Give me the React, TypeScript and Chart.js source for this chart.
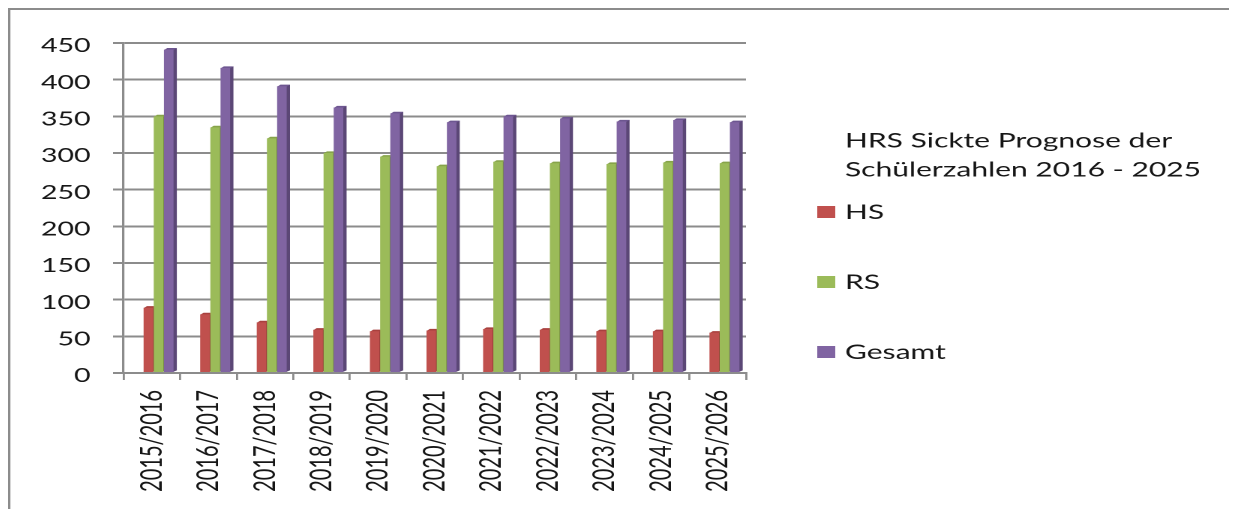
import React, { useEffect, useRef } from "react";
import { Chart, registerables } from "chart.js";

Chart.register(...registerables);

// ---------- data ----------
const categories = [
  "2015/2016", "2016/2017", "2017/2018", "2018/2019", "2019/2020", "2020/2021",
  "2021/2022", "2022/2023", "2023/2024", "2024/2025", "2025/2026",
];
const hsValues = [89, 80, 69, 59, 57, 58, 60, 59, 57, 57, 55];
const rsValues = [350, 335, 320, 300, 295, 282, 288, 286, 285, 287, 286];
const gesamtValues = [441, 416, 391, 362, 354, 342, 350, 347, 343, 345, 342];
const seriesNames = ["HS", "RS", "Gesamt"];
const legendTitle = ["HRS Sickte Prognose der", "Schülerzahlen 2016 - 2025"];
const yMin = 0;
const yMax = 450;
const yStep = 50;

// ---------- styles ----------
const frontColors = ["#C0504D", "#9BBB59", "#8064A2"];
const sideColors = ["#8E3734", "#72893F", "#5B4776"];
const topColors = ["#A8413E", "#86A34A", "#6D5690"];
const gridColor = "#8c8c8c";
const textColor = "#161616";
const FONT = "Lato";

// canvas is drawn narrow and stretched horizontally, like the reference picture
const STRETCH = 1.5;
const W = 820;
const H = 501;

const outerBorder = {
  id: "outerBorder",
  beforeDraw(chart: any) {
    const ctx = chart.ctx;
    ctx.save();
    ctx.fillStyle = "#ffffff";
    ctx.fillRect(0, 0, chart.width, chart.height);
    ctx.fillStyle = gridColor;
    ctx.fillRect(0, 0, chart.width, 2);
    ctx.fillRect(0, 0, 1.6, chart.height);
    ctx.restore();
  },
};

const depthShift = {
  id: "depthShift",
  afterLayout(chart: any, _args: any, opts: any) {
    const s = chart.scales.xBars;
    if (!s) return;
    s.left += opts.dx;
    s.right += opts.dx;
    s.configure();
  },
};

const barDepth = {
  id: "barDepth",
  beforeDatasetsDraw(chart: any, _args: any, opts: any) {
    const ctx = chart.ctx;
    ctx.save();
    const n = chart.data.labels.length;
    for (let i = 0; i < n; i++) {
      chart.data.datasets.forEach((ds: any, di: number) => {
        const meta = chart.getDatasetMeta(di);
        const bar: any = meta.data[i];
        if (!bar) return;
        const { x, y, base, width } = bar.getProps(["x", "y", "base", "width"], true);
        const l = x - width / 2;
        const r = x + width / 2;
        const dx = opts.dx;
        const dy = opts.dy;
        ctx.fillStyle = ds.sideColor;
        ctx.beginPath();
        ctx.moveTo(r - 0.5, y);
        ctx.lineTo(r + dx, y - dy);
        ctx.lineTo(r + dx, base - dy);
        ctx.lineTo(r - 0.5, base);
        ctx.closePath();
        ctx.fill();
        ctx.fillStyle = ds.topColor;
        ctx.beginPath();
        ctx.moveTo(l, y + 0.5);
        ctx.lineTo(l + dx, y - dy);
        ctx.lineTo(r + dx, y - dy);
        ctx.lineTo(r, y + 0.5);
        ctx.closePath();
        ctx.fill();
      });
    }
    ctx.restore();
  },
};

const sideLegend = {
  id: "sideLegend",
  afterDraw(chart: any, _args: any, opts: any) {
    const ctx = chart.ctx;
    ctx.save();
    ctx.font = `${opts.fontSize}px ${FONT}`;
    ctx.textBaseline = "alphabetic";
    ctx.textAlign = "left";
    ctx.fillStyle = textColor;
    opts.title.forEach((line: string, i: number) => {
      ctx.fillText(line, opts.textX, opts.titleY + i * opts.titleGap);
    });
    chart.data.datasets.forEach((ds: any, i: number) => {
      const by = opts.itemY + i * opts.itemGap;
      ctx.fillStyle = ds.backgroundColor;
      ctx.fillRect(opts.boxX, by - 1 - opts.boxSize, opts.boxSize, opts.boxSize);
      ctx.fillStyle = textColor;
      ctx.fillText(ds.label, opts.textX, by);
    });
    ctx.restore();
  },
};

export default function App() {
  const canvasRef = useRef<HTMLCanvasElement | null>(null);

  useEffect(() => {
    const canvas = canvasRef.current;
    if (!canvas) return;
    const seriesValues = [hsValues, rsValues, gesamtValues];
    const chart = new Chart(canvas, {
      type: "bar",
      data: {
        labels: categories,
        datasets: seriesNames.map((name, i) => ({
          label: name,
          data: seriesValues[i],
          backgroundColor: frontColors[i],
          sideColor: sideColors[i],
          topColor: topColors[i],
          borderWidth: 0,
          xAxisID: "xBars",
          categoryPercentage: 0.54,
          barPercentage: 0.94,
        })) as any,
      },
      options: {
        animation: false,
        responsive: false,
        devicePixelRatio: 2,
        layout: { padding: { left: 0, top: 35, right: 328, bottom: 0 } },
        plugins: {
          legend: { display: false },
          tooltip: { enabled: false },
          depthShift: { dx: 4.5 },
          barDepth: { dx: 2.2, dy: 1.6 },
          sideLegend: {
            title: legendTitle,
            fontSize: 20,
            textX: 558,
            titleY: 139.5,
            titleGap: 29,
            boxX: 539.5,
            boxSize: 12,
            itemY: 211,
            itemGap: 70,
          },
        } as any,
        scales: {
          x: {
            type: "category",
            position: "bottom",
            afterFit: (scale: any) => {
              scale.height = H - 365;
            },
            grid: {
              display: true,
              drawOnChartArea: false,
              drawTicks: true,
              tickLength: 7,
              color: gridColor,
              lineWidth: 1.4,
              offset: true,
            },
            border: { display: true, color: gridColor, width: 2 },
            ticks: {
              font: { family: FONT, size: 20 },
              color: textColor,
              minRotation: 90,
              maxRotation: 90,
              padding: 10,
              autoSkip: false,
            },
          },
          xBars: {
            type: "category",
            display: false,
            offset: true,
          },
          y: {
            type: "linear",
            min: yMin,
            max: yMax,
            afterFit: (scale: any) => {
              scale.width = 77;
            },
            ticks: {
              stepSize: yStep,
              font: { family: FONT, size: 19 },
              color: textColor,
              padding: 15,
              labelOffset: 3,
            },
            grid: { color: gridColor, lineWidth: 2, tickLength: 7 },
            border: { display: true, color: gridColor, width: 1.6 },
          },
        } as any,
      },
      plugins: [outerBorder, depthShift, barDepth, sideLegend],
    });
    return () => chart.destroy();
  }, []);

  return (
    <div style={{ width: 1229, height: 501, overflow: "hidden", position: "relative" }}>
      <div
        style={{
          width: W,
          height: H,
          transform: `scaleX(${STRETCH})`,
          transformOrigin: "0 0",
        }}
      >
        <canvas
          ref={canvasRef}
          width={W}
          height={H}
          style={{ display: "block", width: `${W}px`, height: `${H}px` }}
        />
      </div>
    </div>
  );
}
